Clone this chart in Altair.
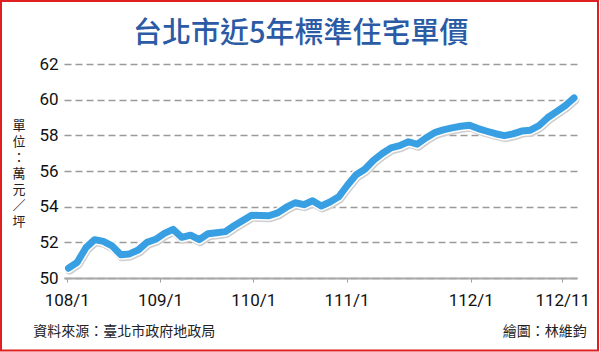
import altair as alt
import pandas as pd

# monthly index 0 = 108/1 ... 58 = 112/11
month_index = list(range(59))
prices = [50.55, 50.88, 51.70, 52.15, 52.05, 51.80, 51.30, 51.35, 51.57, 52.00,
          52.17, 52.50, 52.73, 52.28, 52.40, 52.15, 52.48, 52.54, 52.60, 52.93,
          53.23, 53.52, 53.50, 53.49, 53.65, 53.97, 54.22, 54.11, 54.33, 54.04,
          54.26, 54.55, 55.20, 55.79, 56.10, 56.60, 56.98, 57.30, 57.42, 57.64,
          57.50, 57.85, 58.15, 58.31, 58.42, 58.51, 58.57, 58.38, 58.23, 58.09,
          57.98, 58.08, 58.24, 58.29, 58.55, 59.00, 59.33, 59.67, 60.10]

tick_positions = [-0.2, 10.5, 21.2, 31.9, 46.15, 56.65]
tick_labels = ["108/1", "109/1", "110/1", "111/1", "112/1", "112/11"]
y_ticks = [50, 52, 54, 56, 58, 60, 62]

title_text = "台北市近5年標準住宅單價"
unit_text = "單\n位\n：\n萬\n元\n／\n坪"
source_text = "資料來源：臺北市政府地政局"
credit_text = "繪圖：林維鈞"

df = pd.DataFrame({"m": month_index, "v": prices})
one = pd.DataFrame({"k": [0]})

# label expression from the tick lists
expr = "''"
for i in range(len(tick_positions) - 1, -1, -1):
    expr = f"abs(datum.value - {tick_positions[i]}) < 0.5 ? '{tick_labels[i]}' : ({expr})"

CJK = "Noto Sans CJK TC"

x_enc = alt.X("m:Q", scale=alt.Scale(domain=[-0.516, 58.34], nice=False, zero=False),
              axis=alt.Axis(values=tick_positions, labelExpr=expr, title=None, grid=False,
                            domainColor="#a8a8a8", domainWidth=2, tickColor="#a0a0a0",
                            tickSize=4, tickWidth=1, labelFont="Roboto", labelFontSize=17,
                            labelColor="#111111", labelPadding=10, labelFlush=False,
                            labelOverlap=False))
y_enc = alt.Y("v:Q", scale=alt.Scale(domain=[50, 62], nice=False, zero=False),
              axis=alt.Axis(values=y_ticks, title=None, domain=False, ticks=False,
                            grid=True, gridDash=[7, 4], gridColor="#9a9a9a", gridWidth=1.5,
                            labelFont="Roboto", labelFontSize=17, labelColor="#111111",
                            labelPadding=6, labelOverlap=False, labelFlush=False))

base = alt.Chart(df).encode(x=x_enc, y=y_enc)
shadow = base.mark_line(color="#cfcfcf", strokeWidth=9, strokeCap="round",
                        strokeJoin="round", yOffset=2, xOffset=1)
halo = base.mark_line(color="#ffffff", strokeWidth=10, strokeCap="round", strokeJoin="round")
main = base.mark_line(color="#389fe3", strokeWidth=7, strokeCap="round", strokeJoin="round")

title = alt.Chart(one).mark_text(font=CJK, fontSize=29, fontWeight=500, color="#2c5ba6",
                                 align="center", baseline="middle").encode(
    x=alt.value(236.8), y=alt.value(-30.5), text=alt.value(title_text))
unit = alt.Chart(one).mark_text(font=CJK, fontSize=13, color="#222222", align="center",
                                baseline="top", lineBreak="\n", lineHeight=16).encode(
    x=alt.value(-45), y=alt.value(56), text=alt.value(unit_text))
source = alt.Chart(one).mark_text(font=CJK, fontSize=14, color="#222222", align="left",
                                  baseline="middle").encode(
    x=alt.value(-30.7), y=alt.value(268), text=alt.value(source_text))
credit = alt.Chart(one).mark_text(font=CJK, fontSize=14, color="#222222", align="right",
                                  baseline="middle").encode(
    x=alt.value(522.7), y=alt.value(268), text=alt.value(credit_text))
border = alt.Chart(one).mark_rect(filled=False, stroke="#e02020", strokeWidth=2).encode(
    x=alt.value(-63), x2=alt.value(534), y=alt.value(-63), y2=alt.value(286.5))

chart = alt.layer(shadow, halo, main, title, unit, source, credit, border).properties(
    width=513, height=214,
    padding={"left": 64, "top": 64, "right": 23, "bottom": 74},
    autosize=alt.AutoSizeParams(type="none"),
    background="#ffffff",
).configure_view(stroke=None)

chart.save("out.html", embed_options={"renderer": "svg", "actions": False})
